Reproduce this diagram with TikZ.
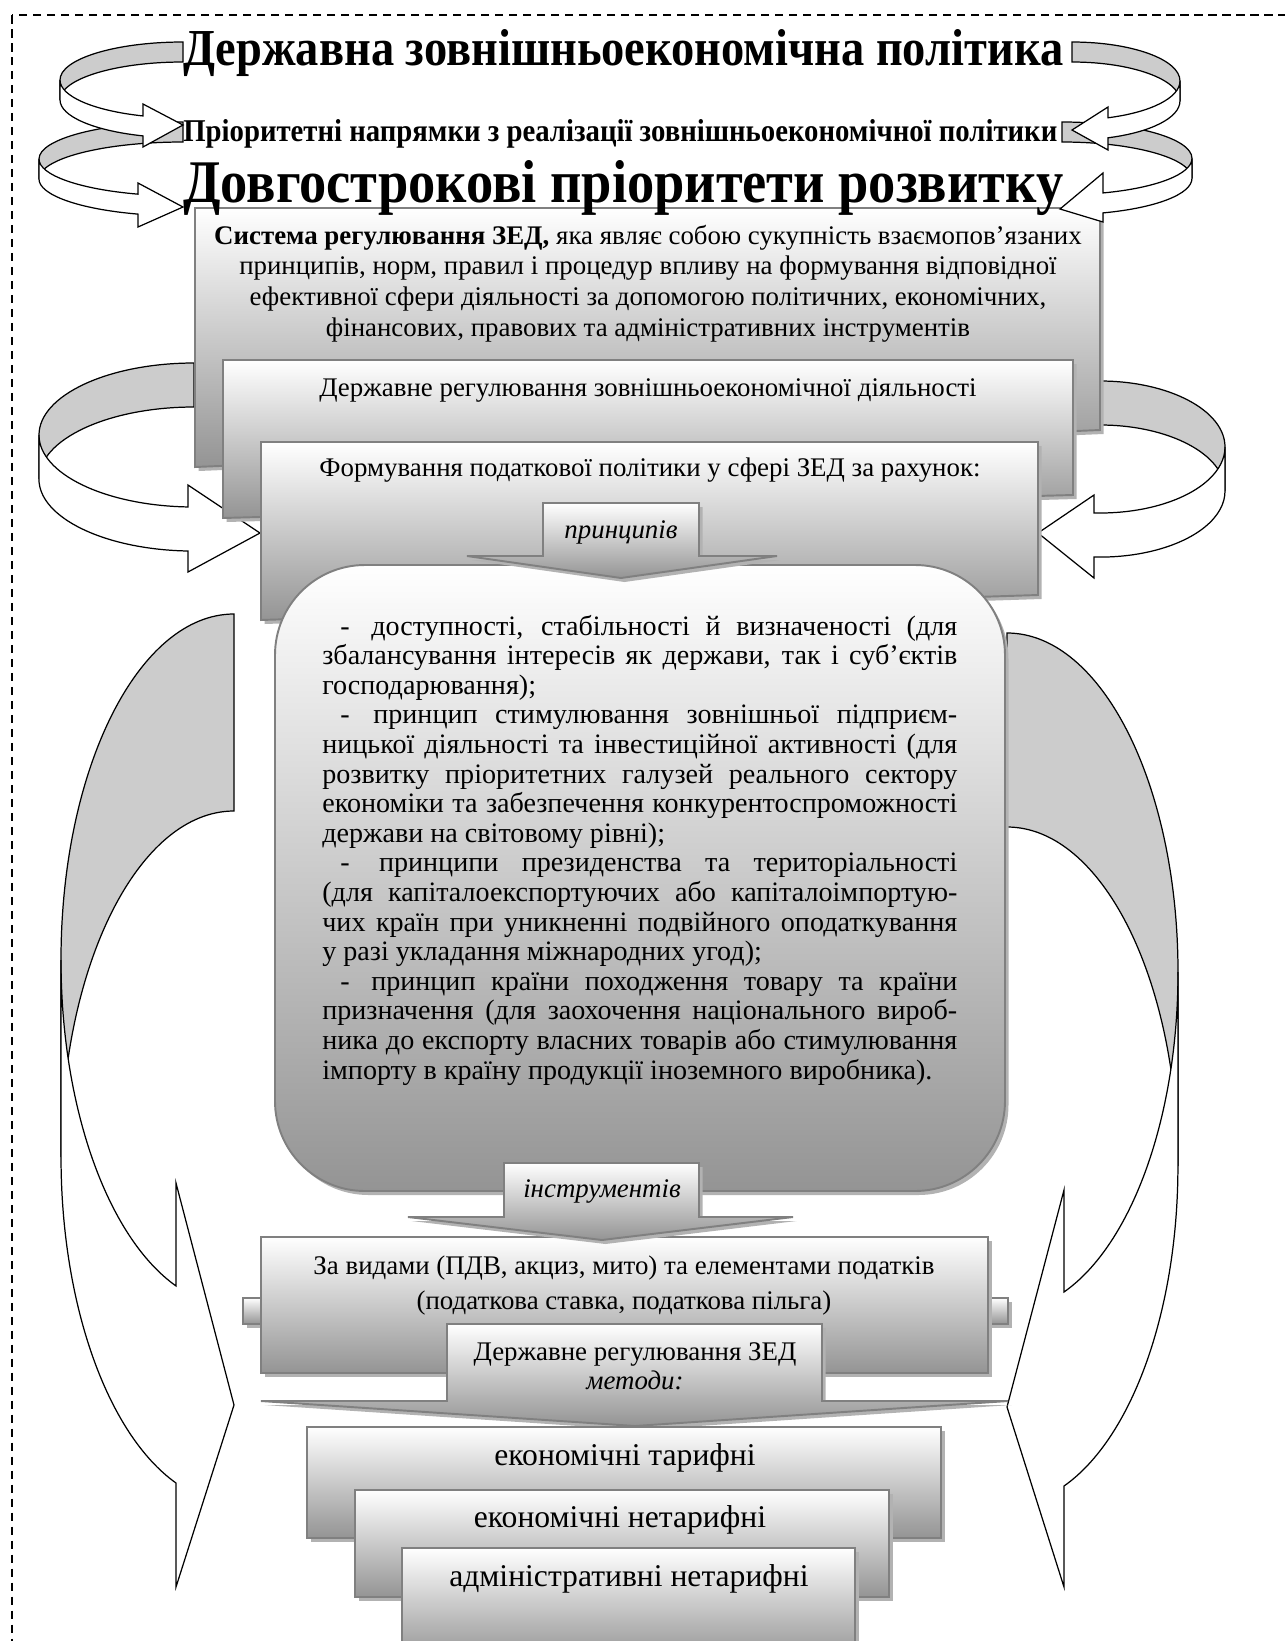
\documentclass[tikz,border=0pt]{standalone}
\usepackage{graphicx}
\usepackage{fontspec}
\setmainfont{Liberation Serif}
\usetikzlibrary{shadows}
\newlength\pxl
\setlength\pxl{0.02cm}
\newcommand{\jl}[1]{\makebox[635\pxl][s]{#1}}

\begin{document}
\begin{tikzpicture}[x=0.02cm,y=-0.02cm,
    every node/.style={inner sep=0pt},
    bandback/.style={fill=black!20,draw=black,line width=0.7pt},
    bandfront/.style={fill=white,draw=black,line width=0.7pt},
    gradbox/.style={top color=white,bottom color=black!42,draw=black!50,line width=1.1pt,
        drop shadow={shadow xshift=0.07cm,shadow yshift=-0.08cm,fill=black!30,opacity=1}},
    txt/.style={font=\fontsize{15.3}{17}\selectfont},
    listtxt/.style={font=\fontsize{16}{17}\selectfont},
    methtxt/.style={font=\fontsize{18}{21}\selectfont}]
\useasboundingbox (0,0) rectangle (1285,1641);
\draw [line width=1pt,dash pattern=on 0.17cm off 0.11cm] (12,15) rectangle (1300,1660);
% big side arrows
\draw [bandback] (234,614) arc [start angle=270,end angle=180,x radius=173,y radius=346]
    -- (61,1157) arc [start angle=180,end angle=270,x radius=173,y radius=346] -- cycle;
\draw [bandfront] (61,960) arc [start angle=180,end angle=109.6,x radius=173,y radius=346]
    -- (176,1183) -- (234,1405) -- (176,1587) -- (176,1483)
    arc [start angle=109.6,end angle=180,x radius=173,y radius=346] -- cycle;
\draw [bandback] (1007,633) arc [start angle=270,end angle=360,x radius=171,y radius=339.2]
    -- (1178,1166.2) arc [start angle=360,end angle=270,x radius=171,y radius=339.2] -- cycle;
\draw [bandfront] (1178,972.2) arc [start angle=0,end angle=70.5,x radius=171,y radius=339.2]
    -- (1064,1190) -- (1007,1407) -- (1064,1587) -- (1064,1486)
    arc [start angle=70.5,end angle=0,x radius=171,y radius=339.2] -- cycle;
% middle side arrows
\draw [bandback] (194,363) arc [start angle=270,end angle=180,x radius=155,y radius=72]
    -- (39,479) arc [start angle=180,end angle=270,x radius=155,y radius=72] -- cycle;
\draw [bandfront] (39,435) arc [start angle=180,end angle=92.2,x radius=155,y radius=72]
    -- (188,485) -- (260,533) -- (188,572) -- (188,551)
    arc [start angle=92.2,end angle=180,x radius=155,y radius=72] -- cycle;
\draw [bandback] (1100,381) arc [start angle=270,end angle=360,x radius=125,y radius=66]
    -- (1225,491) arc [start angle=360,end angle=270,x radius=125,y radius=66] -- cycle;
\draw [bandfront] (1225,447) arc [start angle=0,end angle=92.75,x radius=125,y radius=66]
    -- (1094,495) -- (1038,533) -- (1094,578) -- (1094,557)
    arc [start angle=92.75,end angle=0,x radius=125,y radius=66] -- cycle;
% nested boxes
\draw [gradbox] (195,208) -- (1100,208) -- (1100,430) -- (195,467) -- cycle;
\draw [gradbox] (223,360) -- (1073,360) -- (1073,495) -- (223,518) -- cycle;
\draw [gradbox] (261,442) -- (1038,442) -- (1038,595) -- (261,620) -- cycle;
\foreach \ln [count=\i from 0] in {{\textbf{Система регулювання ЗЕД,} яка являє собою сукупність взаємопов’язаних},
    {принципів, норм, правил і процедур впливу на формування відповідної},
    {ефективної сфери діяльності за допомогою політичних, економічних,},
    {фінансових, правових та адміністративних інструментів}}
    \node [txt,anchor=base] (sys\i) at (648,{244+30.7*\i}) {\ln};
\node [txt,anchor=base] (zedreg) at (648,396) {Державне регулювання зовнішньоекономічної діяльності};
\node [txt,anchor=base] (taxpol) at (650,476) {Формування податкової політики у сфері ЗЕД за рахунок:};
% top arrows
\draw [bandback] (183,122) arc [start angle=270,end angle=180,x radius=144,y radius=37]
    -- (39,179) arc [start angle=180,end angle=270,x radius=144,y radius=37] -- cycle;
\draw [bandfront] (39,159) arc [start angle=180,end angle=108.2,x radius=144,y radius=37]
    -- (138,183) -- (183,207) -- (138,227) -- (138,214.1)
    arc [start angle=108.2,end angle=180,x radius=144,y radius=37] -- cycle;
\draw [bandback] (1062,122) arc [start angle=270,end angle=360,x radius=130,y radius=36.4]
    -- (1192,178.4) arc [start angle=360,end angle=270,x radius=130,y radius=36.4] -- cycle;
\draw [bandfront] (1192,158.4) arc [start angle=0,end angle=71.6,x radius=130,y radius=36.4]
    -- (1103,173) -- (1060,209) -- (1103,222) -- (1103,212.9)
    arc [start angle=71.6,end angle=0,x radius=130,y radius=36.4] -- cycle;
\draw [bandback] (183,42) arc [start angle=270,end angle=180,x radius=123,y radius=38]
    -- (60,100) arc [start angle=180,end angle=270,x radius=123,y radius=38] -- cycle;
\draw [bandfront] (60,80) arc [start angle=180,end angle=109,x radius=123,y radius=38]
    -- (143,104) -- (183,125) -- (143,147) -- (143,135.9)
    arc [start angle=109,end angle=180,x radius=123,y radius=38] -- cycle;
\draw [bandback] (1072,42) arc [start angle=270,end angle=360,x radius=108,y radius=39]
    -- (1180,101) arc [start angle=360,end angle=270,x radius=108,y radius=39] -- cycle;
\draw [bandfront] (1180,81) arc [start angle=0,end angle=70.5,x radius=108,y radius=39]
    -- (1108,107) -- (1072,130) -- (1108,150) -- (1108,137.8)
    arc [start angle=70.5,end angle=0,x radius=108,y radius=39] -- cycle;
% headings
\node [anchor=base west] (policy) at (183,65)
    {\resizebox{880\pxl}{36\pxl}{\bfseries Державна зовнішньоекономічна політика}};
\node [anchor=base west] (priority) at (183,141)
    {\resizebox{874\pxl}{22\pxl}{\bfseries Пріоритетні напрямки з реалізації зовнішньоекономічної політики}};
\node [anchor=base west] (longterm) at (183,202)
    {\resizebox{880\pxl}{42\pxl}{\bfseries Довгострокові пріоритети розвитку}};
% principles
\draw [gradbox,rounded corners=1.8cm] (275,565) rectangle (1005,1191);
\draw [gradbox] (543,503) -- (699,503) -- (699,556) -- (777,556) -- (621,578)
    -- (467,556) -- (543,556) -- cycle;
\node [txt,anchor=base] (princ) at (621,538) {\textit{принципів}};
\foreach \ln [count=\i from 0] in {
    {\hspace*{18\pxl}-\hspace{6\pxl} доступності, стабільності й визначеності (для},
    {збалансування інтересів як держави, так і суб’єктів},
    {господарювання);\hfill},
    {\hspace*{18\pxl}-\hspace{6\pxl} принцип стимулювання зовнішньої підприєм-},
    {ницької діяльності та інвестиційної активності (для},
    {розвитку пріоритетних галузей реального сектору},
    {економіки та забезпечення конкурентоспроможності},
    {держави на світовому рівні);\hfill},
    {\hspace*{18\pxl}-\hspace{6\pxl} принципи президенства та територіальності},
    {(для капіталоекспортуючих або капіталоімпортую-},
    {чих країн при уникненні подвійного оподаткування},
    {у разі укладання міжнародних угод);\hfill},
    {\hspace*{18\pxl}-\hspace{6\pxl} принцип країни походження товару та країни},
    {призначення (для заохочення національного вироб-},
    {ника до експорту власних товарів або стимулювання},
    {імпорту в країну продукції іноземного виробника).\hfill}}
    \node [listtxt,anchor=base west] (list\i) at (322,{635+29.6*\i}) {\jl{\ln}};
% instruments
\draw [gradbox] (243,1298) rectangle (261,1324);
\draw [gradbox] (988,1298) rectangle (1008,1324);
\draw [gradbox] (261,1237) rectangle (988,1373);
\node [txt,anchor=base] (kinds) at (624,1274) {За видами (ПДВ, акциз, мито) та елементами податків};
\node [txt,anchor=base] (elems) at (624,1309) {(податкова ставка, податкова пільга)};
\draw [gradbox] (504,1163) -- (699,1163) -- (699,1217) -- (793,1217) -- (602,1240)
    -- (408,1217) -- (504,1217) -- cycle;
\node [txt,anchor=base] (instr) at (602,1197) {\textit{інструментів}};
% methods
\draw [gradbox] (447,1324) -- (822,1324) -- (822,1401) -- (1008,1401) -- (635,1426)
    -- (261,1401) -- (447,1401) -- cycle;
\node [txt,anchor=base] (zedstate) at (635,1360) {Державне регулювання ЗЕД};
\node [txt,anchor=base] (methods) at (635,1389) {\textit{методи:}};
\draw [gradbox] (307,1427) rectangle (941,1538);
\node [methtxt,anchor=base] (tariff) at (625,1465) {економічні тарифні};
\draw [gradbox] (355,1490) rectangle (889,1597);
\node [methtxt,anchor=base] (nontariff) at (620,1527) {економічні нетарифні};
\draw [gradbox] (402,1548) rectangle (855,1660);
\node [methtxt,anchor=base] (admin) at (629,1586) {адміністративні нетарифні};
\end{tikzpicture}
\end{document}
